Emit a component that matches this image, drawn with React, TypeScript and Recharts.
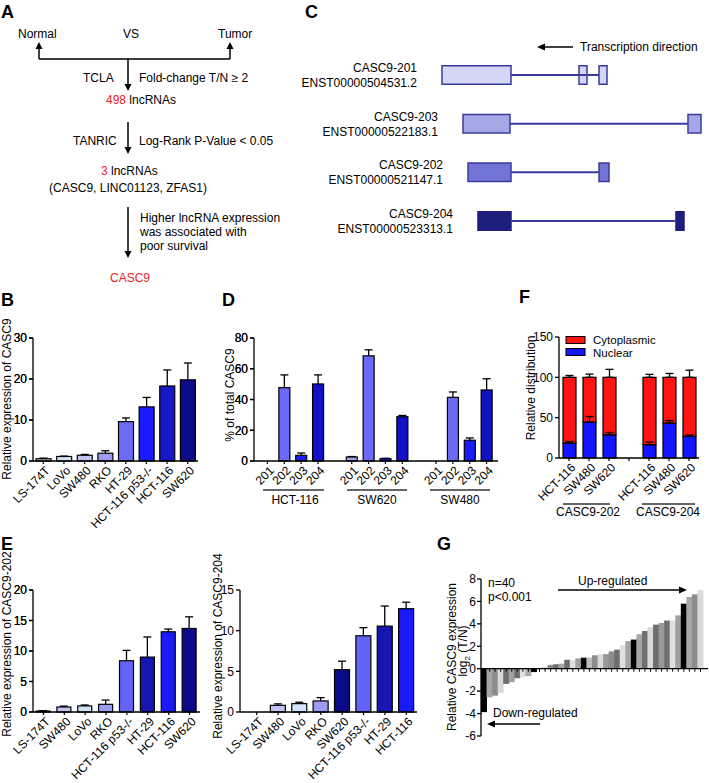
import React from "react";
import {
  BarChart,
  Bar,
  XAxis,
  YAxis,
  ErrorBar,
  ReferenceLine,
  ReferenceArea,
  ScatterChart,
  Scatter,
} from "recharts";

const FONT = "'Liberation Sans', Arial, Helvetica, sans-serif";
const RED = "#e8231f";

// ---- B: CASC9 in cell lines ----
const bLines = ["LS-174T", "LoVo", "SW480", "RKO", "HT-29", "HCT-116 p53-/-", "HCT-116", "SW620"];
const bMean = [0.55, 1.1, 1.4, 1.9, 9.6, 13.2, 18.3, 19.8];
const bErr = [0.15, 0.1, 0.2, 0.6, 0.9, 2.3, 3.9, 4.1];
const bColors = ["#c9d2e6", "#d0e2f5", "#c3c3f2", "#9c9cf2", "#6b6bf6", "#1a1aff", "#1717c6", "#0b0b8a"];
const bTicks = [0, 10, 20, 30];

// ---- D: isoform share ----
const dIsoforms = ["201", "202", "203", "204"];
const dGroups = ["HCT-116", "SW620", "SW480"];
const dMean = [
  [0, 47.7, 3.7, 50.1],
  [2.6, 68.4, 1.5, 28.8],
  [0, 41.4, 13.5, 46.2],
];
const dErr = [
  [0, 8.3, 1.5, 5.9],
  [0.3, 3.9, 0.3, 0.8],
  [0, 3.5, 1.5, 7.3],
];
const dColors = ["#a3a3f2", "#6a6af6", "#1a1aff", "#1212c4"];
const dTicks = [0, 20, 40, 60, 80];

// ---- F: subcellular distribution ----
const fLines = ["HCT-116", "SW480", "SW620"];
const fTranscripts = ["CASC9-202", "CASC9-204"];
const fNuclear = [
  [18.5, 44.4, 28.8],
  [16.4, 43.2, 26.7],
];
const fNuclearErr = [
  [2, 7, 2.8],
  [3.3, 3.2, 1.7],
];
const fCytoErr = [
  [2.3, 4, 9.9],
  [3.7, 4.8, 8.9],
];

// ---- E: isoform expression ----
const e202Lines = ["LS-174T", "SW480", "LoVo", "RKO", "HCT-116 p53-/-", "HT-29", "HCT-116", "SW620"];
const e202Mean = [0.16, 0.82, 1.0, 1.26, 8.4, 9.0, 13.15, 13.7];
const e202Err = [0.05, 0.15, 0.15, 0.7, 1.7, 3.3, 0.45, 1.9];
const e202Colors = ["#b8bde0", "#c3c3f2", "#d2e4f7", "#9c9cf2", "#6363f6", "#1616b0", "#1a1aff", "#0b0b8a"];
const e202Ticks = [0, 5, 10, 15, 20];

const e204Lines = ["LS-174T", "SW480", "LoVo", "RKO", "SW620", "HCT-116 p53-/-", "HT-29", "HCT-116"];
const e204Mean = [0.04, 0.82, 1.03, 1.36, 5.2, 9.37, 10.56, 12.7];
const e204Err = [0.02, 0.18, 0.17, 0.41, 1.05, 1.0, 2.47, 0.8];
const e204Colors = ["#b8bde0", "#c3c3f2", "#d2e4f7", "#9c9cf2", "#0b0b8a", "#6363f6", "#1616b0", "#1a1aff"];

// ---- G: tissue pairs, log2(T/N) ----
const gValues = [
  -3.87, -2.55, -2.4, -2.15, -1.35, -1.2, -0.85, -0.75, -0.65, -0.3,
  0.05, 0.2, 0.35, 0.4, 0.45, 0.8, 0.75, 0.92, 0.98, 1.0,
  1.2, 1.28, 1.3, 1.55, 1.7, 2.1, 2.47, 2.6, 3.07, 3.36,
  3.7, 3.93, 4.08, 4.3, 4.3, 4.76, 5.8, 6.4, 6.63, 7.0,
];
const gColors = [
  "#000000", "#a6a6a6", "#8c8c8c", "#d9d9d9", "#6e6e6e", "#a0a0a0", "#6e6e6e", "#e0e0e0", "#aaaaaa", "#000000",
  "#e0e0e0", "#e6e6e6", "#8c8c8c", "#6e6e6e", "#a6a6a6", "#6e6e6e", "#e0e0e0", "#a0a0a0", "#000000", "#bdbdbd",
  "#8c8c8c", "#d9d9d9", "#999999", "#8c8c8c", "#6e6e6e", "#e0e0e0", "#a6a6a6", "#000000", "#a6a6a6", "#707070",
  "#d9d9d9", "#6e6e6e", "#999999", "#707070", "#e0e0e0", "#a0a0a0", "#000000", "#a6a6a6", "#8c8c8c", "#d9d9d9",
];

// ---- C: transcript structures ----
const cNames = ["CASC9-201", "CASC9-203", "CASC9-202", "CASC9-204"];
const cIds = ["ENST00000504531.2", "ENST00000522183.1", "ENST00000521147.1", "ENST00000523313.1"];
const cExons = [
  [[0, 69], [137, 145], [157, 165]],
  [[21, 68], [246, 259]],
  [[26, 69], [157, 167]],
  [[36, 69], [234, 242]],
];
const cFills = ["#d3d6f5", "#a6a8e6", "#7274d6", "#1e1e7e"];

const bData = bLines.map((name, i) => ({ name, v: bMean[i], e: bErr[i], c: bColors[i] }));
const e202Data = e202Lines.map((name, i) => ({ name, v: e202Mean[i], e: e202Err[i], c: e202Colors[i] }));
const e204Data = e204Lines.map((name, i) => ({ name, v: e204Mean[i], e: e204Err[i], c: e204Colors[i] }));

const dData: any[] = [];
dGroups.forEach((g, gi) => {
  if (gi > 0) dData.push({ name: "gap" + gi, v: null, e: 0, c: "none" });
  dIsoforms.forEach((iso, ii) =>
    dData.push({ name: iso, v: dMean[gi][ii], e: dErr[gi][ii], c: dColors[ii] })
  );
});

const fData: any[] = [];
fTranscripts.forEach((t, ti) => {
  if (ti > 0) fData.push({ name: "gap", nuc: null, cyto: null, nucErr: [0, 0], cytoErr: [0, 0] });
  fLines.forEach((l, li) =>
    fData.push({
      name: l,
      nuc: fNuclear[ti][li],
      cyto: 100 - fNuclear[ti][li],
      nucErr: [0, fNuclearErr[ti][li]],
      cytoErr: [0, fCytoErr[ti][li]],
    })
  );
});

const gData = gValues.map((v, i) => ({ name: String(i + 1), v, c: gColors[i] }));
const cLabelPts = cNames.map((name, i) => ({ pos: cExons[i][0][0], row: i, name, id: cIds[i] }));

const Y_W = 26;
const blackLine = { stroke: "#000", strokeWidth: 1.3 };

const YTick = (p: any) => (
  <text x={p.x} y={p.y} dy="0.36em" textAnchor="end" fontSize={12} fontFamily={FONT} fill="#000">
    {p.payload?.value}
  </text>
);

const yProps = { type: "number" as const, tick: YTick, tickLine: blackLine, axisLine: blackLine, tickSize: 4, tickMargin: 2, interval: 0 as const };

function frame(x0: number, x1: number, y0: number, y1: number, top: number, right: number, bottom: number) {
  const left = x0 - Y_W;
  return {
    x0, y0, y1,
    style: { position: "absolute" as const, left, top },
    width: right - left,
    height: bottom - top,
    margin: { top: y0 - top, left: 0, right: right - x1, bottom: 0 },
    xH: bottom - y1,
    axisY: y1 - top,
  };
}

function makeRotTick(axisY: number) {
  return (p: any) => {
    const v = String(p.payload?.value ?? "");
    const x = p.x;
    const ax = x + 1;
    const ay = axisY + 4;
    const isGap = v.startsWith("gap");
    return (
      <g>
        {v !== "gap1" && v !== "gap2" && <line x1={x} x2={x} y1={axisY} y2={axisY + 3} stroke="#000" strokeWidth={1.2} />}
        {!isGap && (
          <text x={ax} y={ay} transform={`rotate(-45 ${ax} ${ay})`} textAnchor="end" dominantBaseline="hanging" fontSize={12} fontFamily={FONT} fill="#000">
            {v}
          </text>
        )}
      </g>
    );
  };
}

// bar filled with its own colour, error bar upward only (Prism style)
const ErrBarShape = (p: any) => {
  const { x, y, width, height, payload } = p;
  if (!payload || payload.v == null || !(height > 0.5)) return null;
  const k = height / payload.v;
  const top = y - payload.e * k;
  const cx = x + width / 2;
  return (
    <g>
      <rect x={x} y={y} width={width} height={height} fill={payload.c} stroke="#000" strokeWidth={1.2} />
      {payload.e > 0 && (
        <g stroke="#000" strokeWidth={1.3}>
          <line x1={cx} x2={cx} y1={y} y2={top} />
          <line x1={cx - 4} x2={cx + 4} y1={top} y2={top} />
        </g>
      )}
    </g>
  );
};

const GBar = (p: any) => {
  const { x, y, width, height } = p;
  const top = Math.min(y, y + height);
  const h = Math.abs(height);
  const base = p.payload.v >= 0 ? top + h : top;
  const cx = x + width / 2;
  return (
    <g>
      <rect x={x} y={top} width={width} height={h} fill={p.payload.c} />
      <line x1={cx} x2={cx} y1={base} y2={base + 3} stroke="#000" strokeWidth={1} />
    </g>
  );
};

const CLabel = (p: any) => (
  <g fontFamily={FONT} fontSize={12} fill="#000">
    <text x={p.cx - 25} y={p.cy - 3} textAnchor="end">{p.payload.name}</text>
    <text x={p.cx - 25} y={p.cy + 12} textAnchor="end">{p.payload.id}</text>
  </g>
);

function SimpleBars({ data, domain, ticks, f, barSize, pad }: any) {
  return (
    <div style={f.style}>
      <BarChart width={f.width} height={f.height} data={data} margin={f.margin}>
        <XAxis dataKey="name" interval={0} height={f.xH} tickLine={false} axisLine={blackLine} tick={makeRotTick(f.axisY)} padding={pad ?? { left: 0, right: 0 }} />
        <YAxis domain={domain} ticks={ticks} width={Y_W} {...yProps} />
        <Bar dataKey="v" barSize={barSize} shape={ErrBarShape} isAnimationActive={false} />
      </BarChart>
    </div>
  );
}

// tick labels for the left axes, laid over the page at the same place the axis puts them
function OverlayTicks({ f, ticks }: any) {
  const max = ticks[ticks.length - 1];
  return (
    <g>
      {ticks.map((t: number) => {
        const y = f.y1 - (t / max) * (f.y1 - f.y0);
        return (
          <g key={t}>
            <line x1={f.x0 - 4} x2={f.x0} y1={y} y2={y} stroke="#000" strokeWidth={1.3} />
            <text x={f.x0 - 6} y={y} dy="0.36em" textAnchor="end" fill="#000">{t}</text>
          </g>
        );
      })}
    </g>
  );
}

function VText({ x, y, children }: any) {
  return (
    <text transform={`translate(${x} ${y}) rotate(-90)`} textAnchor="middle" fontSize={12} fontFamily={FONT} fill="#000">
      {children}
    </text>
  );
}

export default function App() {
  const fb = frame(33, 198, 338, 461, 320, 215, 550);
  const fd = frame(254, 498, 338, 461, 320, 507, 550);
  const ff = frame(559, 699, 337, 458, 320, 709, 550);
  const fe1 = frame(33, 200, 590, 712, 570, 215, 783);
  const fe2 = frame(240, 417, 590, 712, 570, 427, 783);
  const fg = frame(481, 708, 579, 736, 560, 709, 750);

  return (
    <div style={{ position: "absolute", left: 0, top: 0, width: 709, height: 783, background: "#fff", overflow: "hidden", fontFamily: FONT }}>
      <SimpleBars data={bData} domain={[0, 30]} ticks={bTicks} f={fb} barSize={15} />
      <SimpleBars data={e202Data} domain={[0, 20]} ticks={e202Ticks} f={fe1} barSize={14} />
      <SimpleBars data={e204Data} domain={[0, 15]} ticks={[0, 5, 10, 15]} f={fe2} barSize={15} pad={{ left: 6, right: 0 }} />
      <SimpleBars data={dData} domain={[0, 80]} ticks={dTicks} f={fd} barSize={11} pad={{ left: 5, right: 3 }} />

      {/* F */}
      <div style={ff.style}>
        <BarChart width={ff.width} height={ff.height} data={fData} margin={ff.margin}>
          <XAxis dataKey="name" interval={0} height={ff.xH} tickLine={false} axisLine={blackLine} tick={makeRotTick(ff.axisY)} />
          <YAxis domain={[0, 150]} ticks={[0, 50, 100, 150]} width={Y_W} {...yProps} />
          <Bar dataKey="nuc" stackId="s" barSize={13} fill="#1414ff" stroke="#000" strokeWidth={1.2} isAnimationActive={false}>
            <ErrorBar dataKey="nucErr" width={4} stroke="#000" strokeWidth={1.3} direction="y" />
          </Bar>
          <Bar dataKey="cyto" stackId="s" barSize={13} fill="#ff1414" stroke="#000" strokeWidth={1.2} isAnimationActive={false}>
            <ErrorBar dataKey="cytoErr" width={4} stroke="#000" strokeWidth={1.3} direction="y" />
          </Bar>
        </BarChart>
      </div>

      {/* G */}
      <div style={fg.style}>
        <BarChart width={fg.width} height={fg.height} data={gData} margin={{ ...fg.margin, bottom: fg.xH }} barCategoryGap={0}>
          <XAxis dataKey="name" hide padding={{ left: 0, right: 5 }} />
          <YAxis domain={[-6, 8]} ticks={[-6, -4, -2, 0, 2, 4, 6, 8]} width={Y_W} {...yProps} tickMargin={1} />
          <Bar dataKey="v" shape={GBar} isAnimationActive={false} />
          <ReferenceLine y={0} stroke="#000" strokeWidth={1.3} />
        </BarChart>
      </div>

      {/* C */}
      <div style={{ position: "absolute", left: 300, top: 0 }}>
        <ScatterChart width={409} height={260} margin={{ top: 50.67, left: 142, right: 8, bottom: 14.67 }}>
          <XAxis type="number" dataKey="pos" domain={[0, 259]} hide />
          <YAxis type="number" dataKey="row" domain={[-0.5, 3.5]} reversed hide />
          {cExons.map((ex, i) => (
            <ReferenceLine
              key={"l" + i}
              segment={[{ x: ex[0][1], y: i }, { x: ex[ex.length - 1][0], y: i }]}
              stroke="#3b3b9e"
              strokeWidth={2}
              ifOverflow="visible"
            />
          ))}
          {cExons.map((ex, i) =>
            ex.map((e, j) => (
              <ReferenceArea
                key={"a" + i + "-" + j}
                x1={e[0]}
                x2={e[1]}
                y1={i - 0.19}
                y2={i + 0.19}
                fill={cFills[i]}
                fillOpacity={1}
                stroke={i === 3 ? "#1e1e7e" : "#3b3b9e"}
                strokeWidth={1.5}
                ifOverflow="visible"
              />
            ))
          )}
          <Scatter data={cLabelPts} shape={CLabel} isAnimationActive={false} />
        </ScatterChart>
      </div>

      {/* overlay: flowchart, panel letters, axis titles, annotations */}
      <svg width={709} height={783} style={{ position: "absolute", left: 0, top: 0, pointerEvents: "none" }} fontFamily={FONT} fontSize={12}>
        <g fontWeight="bold" fontSize={18} fill="#000">
          <text x={1} y={18}>A</text>
          <text x={305} y={18}>C</text>
          <text x={1} y={306}>B</text>
          <text x={222} y={306}>D</text>
          <text x={519} y={303}>F</text>
          <text x={1} y={550}>E</text>
          <text x={437} y={550}>G</text>
        </g>

        <OverlayTicks f={fb} ticks={bTicks} />
        <OverlayTicks f={fd} ticks={dTicks} />
        <OverlayTicks f={fe1} ticks={e202Ticks} />

        {/* A */}
        <g stroke="#000" strokeWidth={1.5} fill="none">
          <line x1={39} y1={59} x2={230} y2={59} />
          <line x1={39} y1={59} x2={39} y2={47} />
          <line x1={230} y1={59} x2={230} y2={47} />
          <line x1={128} y1={59} x2={128} y2={84} />
          <line x1={128} y1={122} x2={128} y2={147} />
          <line x1={128} y1={207} x2={128} y2={251} />
        </g>
        <g fill="#000">
          <polygon points="39,42 35.5,49 42.5,49" />
          <polygon points="230,42 226.5,49 233.5,49" />
          <polygon points="128,91 124.5,84 131.5,84" />
          <polygon points="128,154 124.5,147 131.5,147" />
          <polygon points="128,258 124.5,251 131.5,251" />
          <text x={18} y={38}>Normal</text>
          <text x={123} y={38}>VS</text>
          <text x={218} y={38}>Tumor</text>
          <text x={83} y={82}>TCLA</text>
          <text x={139} y={82}>Fold-change T/N ≥ 2</text>
          <text x={106} y={104}><tspan fill={RED}>498</tspan> lncRNAs</text>
          <text x={73} y={145}>TANRIC</text>
          <text x={139} y={145}>Log-Rank P-Value &lt; 0.05</text>
          <text x={101} y={175}><tspan fill={RED}>3</tspan> lncRNAs</text>
          <text x={128} y={192} textAnchor="middle">(CASC9, LINC01123, ZFAS1)</text>
          <text x={140} y={222}>Higher lncRNA expression</text>
          <text x={140} y={236}>was associated with</text>
          <text x={140} y={250}>poor survival</text>
          <text x={110} y={282} fill={RED}>CASC9</text>
        </g>

        {/* C */}
        <line x1={544} y1={47} x2={573} y2={47} stroke="#000" strokeWidth={1.5} />
        <polygon points="537,47 545,43.5 545,50.5" fill="#000" />
        <text x={580} y={51} fill="#000">Transcription direction</text>

        {/* axis titles */}
        <VText x={10.5} y={399}>Relative expression of CASC9</VText>
        <VText x={234} y={395}>% of total CASC9</VText>
        <VText x={535} y={388}>Relative distribution</VText>
        <VText x={10.5} y={644}>Relative expression of CASC9-202</VText>
        <VText x={222} y={646}>Relative expression of CASC9-204</VText>
        <VText x={456} y={657}>Relative CASC9 expression</VText>
        <text transform={`translate(467 651) rotate(-90)`} textAnchor="middle" fontSize={12} fill="#000">
          log<tspan fontSize={8} dy={3}>2</tspan>
          <tspan dy={-3}> (T/N)</tspan>
        </text>

        {/* D and F groups */}
        <g stroke="#333" strokeWidth={1.5}>
          <line x1={263} y1={490} x2={324} y2={490} />
          <line x1={347} y1={490} x2={407} y2={490} />
          <line x1={430} y1={490} x2={490} y2={490} />
          <line x1={563} y1={504} x2={610} y2={504} />
          <line x1={642} y1={504} x2={695} y2={504} />
        </g>
        <g textAnchor="middle" fill="#000">
          {dGroups.map((g, i) => (
            <text key={g} x={[295, 377, 460][i]} y={504}>{g}</text>
          ))}
          {fTranscripts.map((t, i) => (
            <text key={t} x={[588, 668][i]} y={516}>{t}</text>
          ))}
        </g>

        {/* F legend */}
        <rect x={566} y={336.5} width={19} height={7} fill="#ff1414" stroke="#000" />
        <rect x={566} y={348.5} width={19} height={7} fill="#1414ff" stroke="#000" />
        <text x={593} y={344} fill="#000" fontSize={11.5}>Cytoplasmic</text>
        <text x={593} y={357} fill="#000" fontSize={11.5}>Nuclear</text>

        {/* G annotations */}
        <text x={488} y={587} fill="#000">n=40</text>
        <text x={488} y={601} fill="#000">p&lt;0.001</text>
        <text x={578} y={585} fill="#000">Up-regulated</text>
        <line x1={558} y1={590} x2={680} y2={590} stroke="#000" strokeWidth={1.3} />
        <polygon points="687,590 679,586.5 679,593.5" fill="#000" />
        <text x={493} y={717} fill="#000">Down-regulated</text>
        <line x1={494} y1={724} x2={540} y2={724} stroke="#000" strokeWidth={1.3} />
        <polygon points="487,724 495,720.5 495,727.5" fill="#000" />
      </svg>
    </div>
  );
}
